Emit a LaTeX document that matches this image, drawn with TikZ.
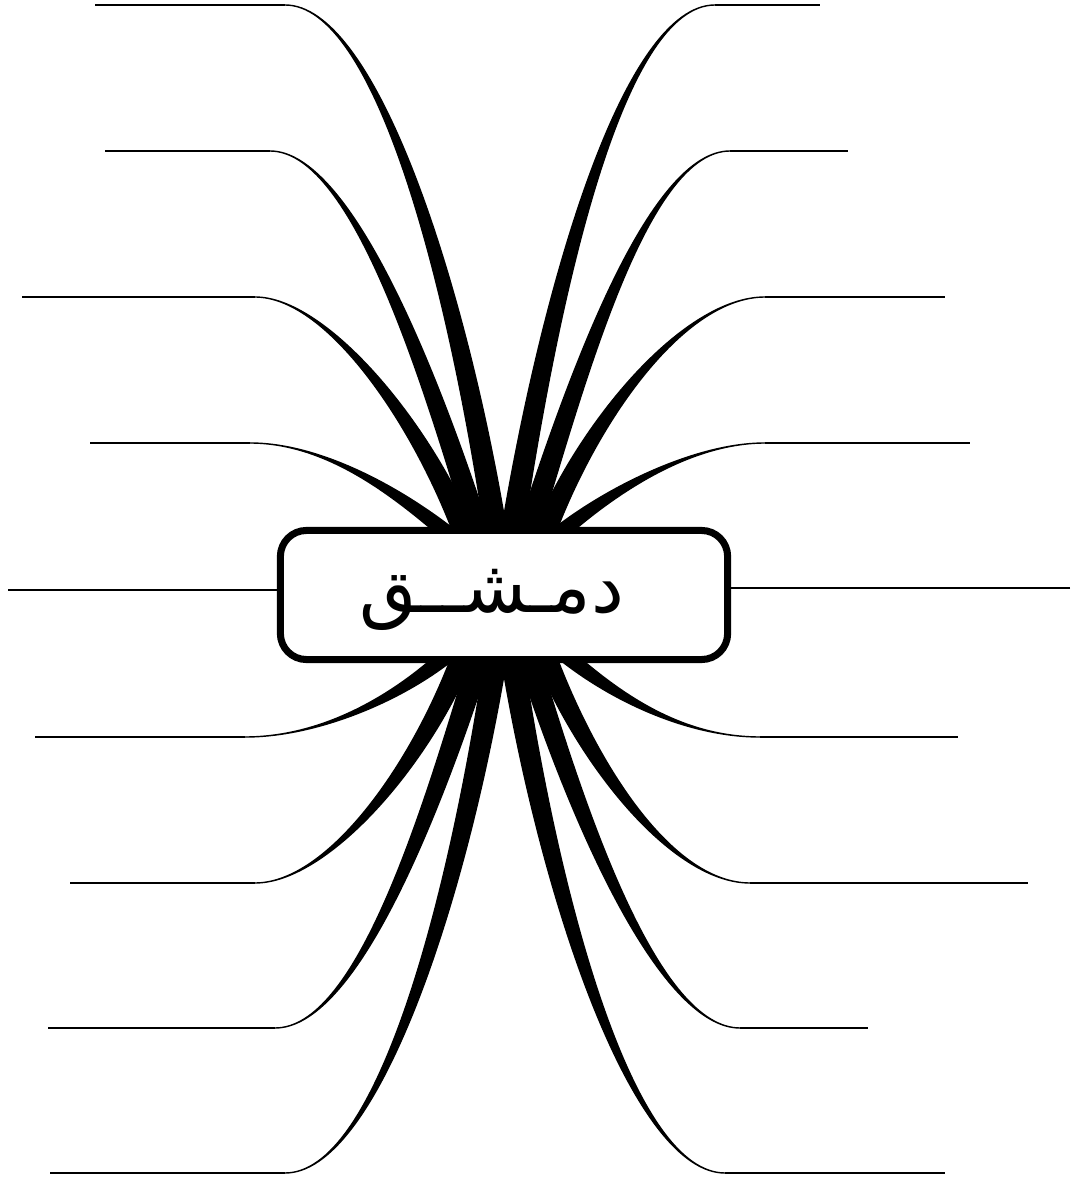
\documentclass[tikz,border=0pt]{standalone}
\usepackage{fontspec}
\usepackage{tikz}
\usetikzlibrary{calc}
\TeXXeTstate=1
\newfontfamily\arabicfont[Script=Arabic]{DejaVu Sans}

\begin{document}
\begin{tikzpicture}[x=0.01cm, y=-0.01cm,
  branch/.style={fill=black, draw=black, line width=0.4pt},
  twig/.style={draw=black, line width=0.55pt},
  citybox/.style={draw=black, fill=white, line width=2pt, rounded corners=0.26cm,
    minimum width=4.47cm, minimum height=1.29cm, inner sep=0pt}]
\useasboundingbox (0,0) rectangle (1070,1177);

\foreach \n/\bx/\by/\cx/\cy/\ex/\ey/\dx/\lx in {
  l1/495/527/-40/-250/285/5/90/95,
  l2/477/527/-50/-160/270/151/80/105,
  l3/462/527/-45/-110/255/297/70/22,
  l4/440/527/-50/-40/250/443/70/90,
  l5/438/663/-50/40/245/737/70/35,
  l6/460/663/-45/110/255/883/70/70,
  l7/478/663/-50/160/275/1028/80/48,
  l8/495/663/-40/250/285/1173/90/50,
  r1/513/527/40/-250/715/5/-90/820,
  r2/530/527/50/-160/730/151/-80/848,
  r3/547/527/45/-110/765/297/-80/945,
  r4/567/527/50/-40/765/443/-70/970,
  r5/575/663/50/40/760/737/-70/958,
  r6/548/663/45/110/750/883/-75/1028,
  r7/530/663/50/160/740/1028/-80/868,
  r8/513/663/40/250/725/1173/-90/945}{
  \coordinate (b\n) at (\bx,\by);
  \coordinate (e\n) at (\ex,\ey);
  \coordinate (t\n) at (\lx,\ey);
  \path[branch] ($(b\n)+(-11,0)$) .. controls ($(b\n)+(\cx,\cy)+(-9,0)$) and ($(e\n)+(\dx,0)$) .. (e\n)
    .. controls ($(e\n)+(\dx,0)$) and ($(b\n)+(\cx,\cy)+(9,0)$) .. ($(b\n)+(11,0)$) -- cycle;
  \draw[twig] (e\n) -- (t\n);
}

\node[citybox] (city) at (504,595) {};
\node[inner sep=0pt] (cityname) at (492,600) {\arabicfont\fontsize{21}{26}\selectfont\beginR دمـشــق\endR};

\coordinate (midl) at (8,590);
\coordinate (midr) at (1070,588);
\draw[twig] (midl) -- (midl -| city.west);
\draw[twig] (midr) -- (midr -| city.east);
\end{tikzpicture}
\end{document}
